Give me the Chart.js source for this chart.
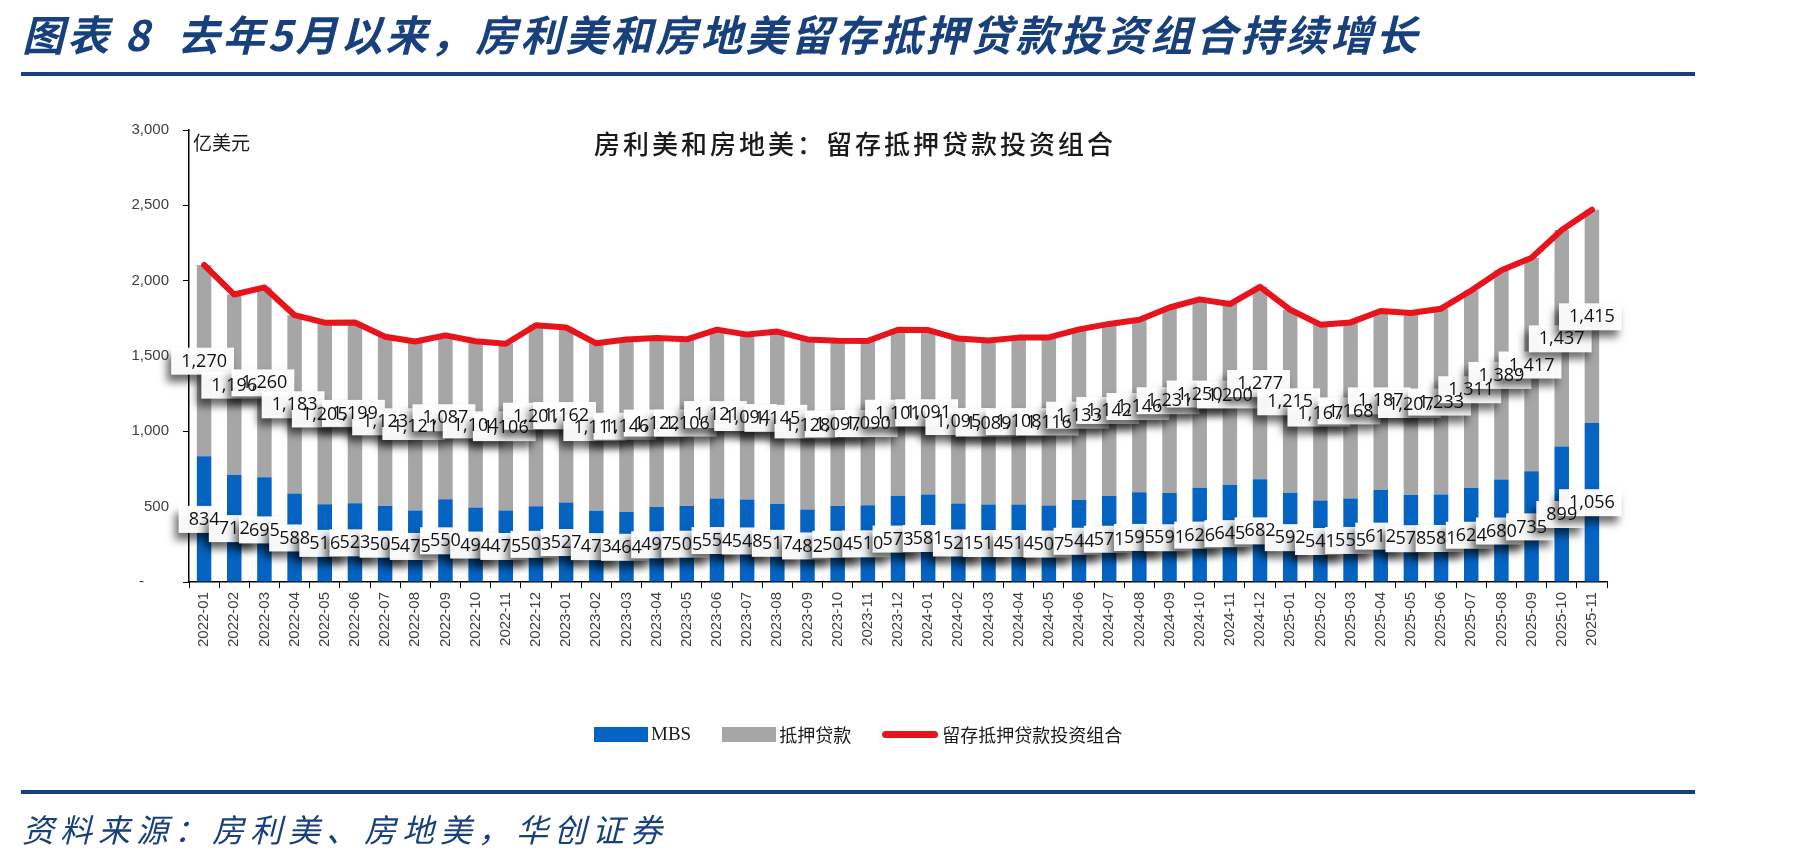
<!DOCTYPE html>
<html lang="zh-CN">
  <head>
    <meta charset="UTF-8" />
    <title>房利美和房地美：留存抵押贷款投资组合</title>
    <script src="https://cdn.jsdelivr.net/npm/chart.js"></script>
    <style>
      body { margin: 0; width: 1801px; height: 861px; background: #fff; position: relative; overflow: hidden; font-family: "Noto Sans CJK SC", sans-serif; }
      .abs { position: absolute; white-space: nowrap; }
      #head { left: 22px; top: 2px; font-size: 42px; font-weight: 700; color: #17407c; font-style: italic; letter-spacing: 3px; }
      .rule { left: 21px; width: 1674px; height: 4px; background: #17407c; }
      #src { left: 22px; top: 805px; font-size: 32px; font-style: italic; color: #17407c; letter-spacing: 6px; }
      #ctitle { left: 594px; top: 124px; font-size: 26px; font-weight: 500; color: #1a1a1a; letter-spacing: 3px; }
      #unit { left: 193px; top: 128px; font-size: 19px; color: #1a1a1a; }
      #legend { left: 594px; top: 721px; font-size: 18px; color: #1a1a1a; display: flex; align-items: center; }
      #legend span.sw { display: inline-block; width: 54px; height: 15px; margin-right: 3px; }
      #legend span.ln { display: inline-block; width: 56px; height: 7px; border-radius: 3.5px; background: #e8141c; margin-right: 4px; }
      #legend .it { display: flex; align-items: center; margin-right: 31px; }
      #legend .mbs { font-family: "Liberation Serif", serif; font-size: 19px; }
      #wrap { position: absolute; left: 0; top: 0; width: 1801px; height: 861px; }
    </style>
  </head>
  <body>
    <div id="wrap"><canvas id="chart" width="1801" height="861"></canvas></div>
    <div class="abs" id="head">图表 8&nbsp; 去年5月以来，房利美和房地美留存抵押贷款投资组合持续增长</div>
    <div class="abs rule" style="top: 72px"></div>
    <div class="abs" id="ctitle">房利美和房地美：留存抵押贷款投资组合</div>
    <div class="abs" id="unit">亿美元</div>
    <div class="abs" id="legend">
      <div class="it"><span class="sw" style="background: #0563c1"></span><span class="mbs">MBS</span></div>
      <div class="it"><span class="sw" style="background: #a6a6a6"></span>抵押贷款</div>
      <div class="it"><span class="ln"></span>留存抵押贷款投资组合</div>
    </div>
    <div class="abs rule" style="top: 790px"></div>
    <div class="abs" id="src">资料来源：房利美、房地美，华创证券</div>

    <script>
      const months = [
        "2022-01", "2022-02", "2022-03", "2022-04", "2022-05", "2022-06", "2022-07", "2022-08", "2022-09", "2022-10", "2022-11", "2022-12",
        "2023-01", "2023-02", "2023-03", "2023-04", "2023-05", "2023-06", "2023-07", "2023-08", "2023-09", "2023-10", "2023-11", "2023-12",
        "2024-01", "2024-02", "2024-03", "2024-04", "2024-05", "2024-06", "2024-07", "2024-08", "2024-09", "2024-10", "2024-11", "2024-12",
        "2025-01", "2025-02", "2025-03", "2025-04", "2025-05", "2025-06", "2025-07", "2025-08", "2025-09", "2025-10", "2025-11",
      ];
      const mbs = [
        834, 712, 695, 588, 516, 523, 505, 475, 550, 494, 475, 503,
        527, 473, 464, 497, 505, 554, 548, 517, 482, 504, 510, 573,
        581, 521, 514, 514, 507, 544, 571, 595, 591, 626, 645, 682,
        592, 541, 555, 612, 578, 581, 624, 680, 735, 899, 1056,
      ];
      const loans = [
        1270, 1196, 1260, 1183, 1205, 1199, 1123, 1121, 1087, 1104, 1106, 1201,
        1162, 1111, 1146, 1122, 1106, 1121, 1094, 1145, 1128, 1097, 1090, 1101,
        1091, 1095, 1089, 1108, 1116, 1133, 1142, 1146, 1231, 1250, 1200, 1277,
        1215, 1167, 1168, 1187, 1207, 1233, 1311, 1389, 1417, 1437, 1415,
      ];
      // 留存组合总额（图中红线）
      const portfolio = [
        2104, 1908, 1955, 1771, 1721, 1722, 1628, 1596, 1637, 1598, 1581, 1704,
        1689, 1584, 1610, 1619, 1611, 1675, 1642, 1662, 1610, 1601, 1600, 1674,
        1672, 1616, 1603, 1622, 1623, 1677, 1713, 1741, 1822, 1876, 1845, 1959,
        1807, 1708, 1723, 1799, 1785, 1814, 1935, 2069, 2152, 2336, 2471,
      ];
      const yTicks = [0, 500, 1000, 1500, 2000, 2500, 3000];

      // 白底带阴影的数据标签，放在每段柱子中间
      const boxLabels = {
        id: "boxLabels",
        afterDatasetsDraw(chart) {
          const ctx = chart.ctx;
          const items = [];
          ctx.save();
          ctx.font = "18px 'Open Sans'";
          [0, 1].forEach((di) => {
            const meta = chart.getDatasetMeta(di);
            meta.data.forEach((bar, i) => {
              const v = chart.data.datasets[di].data[i];
              const text = v.toLocaleString("en-US");
              const w = ctx.measureText(text).width;
              items.push({ x: bar.x, y: (bar.y + bar.base) / 2, text, w });
            });
          });
          ctx.shadowColor = "rgba(0,0,0,0.6)";
          ctx.shadowBlur = 8;
          ctx.shadowOffsetX = -4;
          ctx.shadowOffsetY = 7;
          ctx.fillStyle = "rgba(255,255,255,0.96)";
          items.forEach((it) => {
            ctx.fillRect(it.x - it.w / 2 - 10, it.y - 13, it.w + 17, 27);
          });
          ctx.shadowColor = "transparent";
          ctx.fillStyle = "#111";
          ctx.textAlign = "center";
          ctx.textBaseline = "middle";
          items.forEach((it) => ctx.fillText(it.text, it.x, it.y + 1));
          ctx.restore();
        },
      };

      const ctx = document.getElementById("chart").getContext("2d");
      new Chart(ctx, {
        data: {
          labels: months,
          datasets: [
            { type: "bar", label: "MBS", data: mbs, backgroundColor: "#0563c1", stack: "s", order: 2 },
            { type: "bar", label: "抵押贷款", data: loans, backgroundColor: "#a6a6a6", stack: "s", order: 2 },
            {
              type: "line", label: "留存抵押贷款投资组合", data: portfolio, stack: "line", order: 1,
              borderColor: "#e8141c", borderWidth: 6, pointRadius: 0, tension: 0,
              borderJoinStyle: "round", borderCapStyle: "round",
            },
          ],
        },
        options: {
          responsive: false,
          animation: false,
          devicePixelRatio: 1,
          layout: { padding: { left: 129, top: 130, right: 194, bottom: 199 } },
          datasets: { bar: { barPercentage: 0.48, categoryPercentage: 1 } },
          plugins: { legend: { display: false }, title: { display: false }, tooltip: { enabled: false } },
          scales: {
            x: {
              stacked: true,
              afterFit: (s) => { s.height = 80; },
              grid: { display: true, offset: true, drawOnChartArea: false, drawTicks: true, tickLength: 6, color: "#000" },
              border: { color: "#000", width: 1.5 },
              ticks: { minRotation: 90, maxRotation: 90, autoSkip: false, padding: 4, color: "#404040", font: { family: "'Liberation Sans'", size: 15 } },
            },
            y: {
              stacked: true,
              min: 0,
              max: 3000,
              afterFit: (s) => { s.width = 60; },
              afterBuildTicks: (s) => { s.ticks = yTicks.map((v) => ({ value: v })); },
              grid: { drawOnChartArea: false, drawTicks: true, tickLength: 6, color: "#000" },
              border: { color: "#000", width: 1.5 },
              ticks: {
                padding: 14,
                color: "#404040",
                font: { family: "'Liberation Sans'", size: 15 },
                callback: (v) => (v === 0 ? "-      " : v.toLocaleString("en-US")),
              },
            },
          },
        },
        plugins: [boxLabels],
      });
    </script>
  </body>
</html>
